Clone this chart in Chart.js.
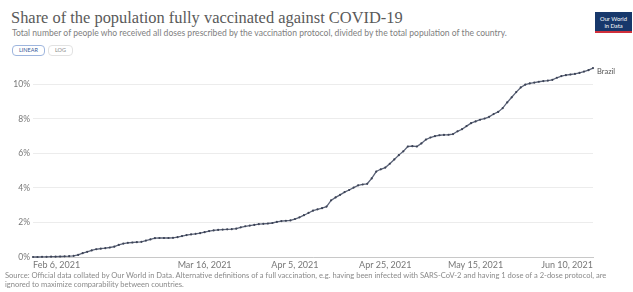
<!DOCTYPE html>
<html><head><meta charset="utf-8">
<script src="https://cdn.jsdelivr.net/npm/chart.js@4"></script>
<style>
html,body{margin:0;padding:0;background:#fff;width:633px;height:292px;overflow:hidden;}
body{position:relative;font-family:Lato,"Open Sans",sans-serif;}
#title{position:absolute;left:11px;top:9px;font-family:"Liberation Serif","DejaVu Serif",serif;font-size:16.5px;color:#5a5a5a;white-space:nowrap;line-height:18px;}
#subtitle{position:absolute;left:12px;top:29px;font-size:7.8px;line-height:9px;color:#808080;white-space:nowrap;}
#btns{position:absolute;left:12px;top:45px;display:flex;gap:3px;}
.b{display:block;font-size:5.5px;line-height:7px;padding:1px 6px;border:1px solid #e2e2e2;border-radius:4px;color:#888;}
.b.on{border-color:#9fb6de;color:#3a5b9a;}
#logo{position:absolute;left:595px;top:12px;width:37px;height:21px;background:#17386b;border-bottom:2px solid #d0303b;color:#fff;font-size:5.8px;line-height:7px;text-align:center;padding-top:3px;box-sizing:border-box;}
#chartWrap{position:absolute;left:0;top:60px;width:633px;height:212px;}
#footer{position:absolute;left:5px;top:271px;width:628px;font-size:7px;line-height:9px;color:#8a8a8a;white-space:nowrap;}
</style>
</head><body>
<div id="title"><span id="titleText">Share of the population fully vaccinated against COVID-19</span></div>
<div id="subtitle"><span id="subText">Total number of people who received all doses prescribed by the vaccination protocol, divided by the total population of the country.</span></div>
<div id="btns"><span class="b on">LINEAR</span><span class="b">LOG</span></div>
<div id="logo">Our World<br>in Data</div>
<div id="chartWrap"><canvas id="c" width="633" height="212"></canvas></div>
<div id="footer"><span id="foot1">Source: Official data collated by Our World in Data. Alternative definitions of a full vaccination, e.g. having been infected with SARS-CoV-2 and having 1 dose of a 2-dose protocol, are</span><br><span>ignored to maximize comparability between countries.</span></div>
<script>
const seriesName = 'Brazil';
// daily share (%) fully vaccinated, day 0 = Feb 6, 2021
const values = [
0.00,0.00,0.01,0.01,0.02,0.02,0.03,0.04,0.05,0.07,
0.12,0.22,0.30,0.38,0.45,0.48,0.51,0.55,0.60,0.70,
0.78,0.82,0.84,0.86,0.88,0.95,1.02,1.09,1.10,1.10,
1.10,1.11,1.15,1.21,1.27,1.31,1.34,1.38,1.44,1.50,
1.54,1.57,1.59,1.60,1.61,1.64,1.72,1.78,1.82,1.86,
1.90,1.92,1.94,1.97,2.03,2.08,2.10,2.12,2.20,2.30,
2.42,2.55,2.68,2.76,2.83,2.92,3.28,3.45,3.60,3.76,
3.88,4.02,4.15,4.20,4.24,4.55,4.95,5.08,5.18,5.40,
5.65,5.90,6.12,6.40,6.42,6.40,6.58,6.80,6.92,7.00,
7.05,7.07,7.08,7.12,7.28,7.40,7.58,7.75,7.85,7.95,
8.02,8.12,8.28,8.40,8.62,8.95,9.25,9.55,9.82,9.98,
10.05,10.10,10.15,10.19,10.22,10.26,10.38,10.48,10.53,10.57,
10.60,10.66,10.74,10.82,10.94
];
const xTickDays = [0, 38, 58, 78, 98, 124];
const xTickLabels = ['Feb 6, 2021','Mar 16, 2021','Apr 5, 2021','Apr 25, 2021','May 15, 2021','Jun 10, 2021'];
const yTicks = [0, 2, 4, 6, 8, 10];

// fit text blocks to the widths they take in the reference
function fitWidth(id, target) {
  const el = document.getElementById(id);
  const host = el.parentElement;
  const fs = parseFloat(getComputedStyle(host).fontSize);
  const w = el.getBoundingClientRect().width;
  if (w > 0) host.style.fontSize = (fs * target / w).toFixed(2) + 'px';
}
fitWidth('titleText', 392);
fitWidth('subText', 495);
fitWidth('foot1', 602);

const endLabel = {
  id: 'endLabel',
  afterDatasetsDraw(chart) {
    const meta = chart.getDatasetMeta(0);
    const p = meta.data[meta.data.length - 1];
    const ctx = chart.ctx;
    ctx.save();
    ctx.font = '7.5px Lato';
    ctx.fillStyle = '#555';
    ctx.textBaseline = 'middle';
    ctx.fillText(chart.data.datasets[0].label, p.x + 4, p.y + 3);
    ctx.restore();
  }
};

new Chart(document.getElementById('c'), {
  type: 'line',
  data: {
    datasets: [{
      label: seriesName,
      data: values.map((v, i) => ({x: i, y: v})),
      borderColor: '#5b6378',
      borderWidth: 1.3,
      pointRadius: 1.1,
      pointBackgroundColor: '#3c4356',
      pointBorderWidth: 0,
      tension: 0,
      clip: 6
    }]
  },
  options: {
    responsive: false,
    animation: false,
    devicePixelRatio: 1,
    layout: {padding: {top: 6.7, right: 40, left: 0, bottom: 0}},
    plugins: {legend: {display: false}, tooltip: {enabled: false}},
    scales: {
      x: {
        type: 'linear',
        min: 0,
        max: values.length - 1,
        afterBuildTicks: s => { s.ticks = xTickDays.map(v => ({value: v})); },
        afterFit: s => { s.height = 15; },
        ticks: {
          align: 'inner',
          autoSkip: false,
          maxRotation: 0,
          padding: 3,
          color: '#777',
          font: {family: 'Lato', size: 9},
          callback: v => xTickLabels[xTickDays.indexOf(v)]
        },
        grid: {display: false, drawTicks: false},
        border: {display: true, color: '#c8c8c8', width: 1}
      },
      y: {
        min: 0,
        max: Math.max(...values),
        afterBuildTicks: s => { s.ticks = yTicks.map(v => ({value: v})); },
        afterFit: s => { s.width = 33; },
        ticks: {
          padding: 3,
          color: '#777',
          font: {family: 'Lato', size: 8.5},
          callback: v => v + '%'
        },
        grid: {color: '#ececec', drawTicks: false},
        border: {display: false}
      }
    }
  },
  plugins: [endLabel]
});
</script>
</body></html>
